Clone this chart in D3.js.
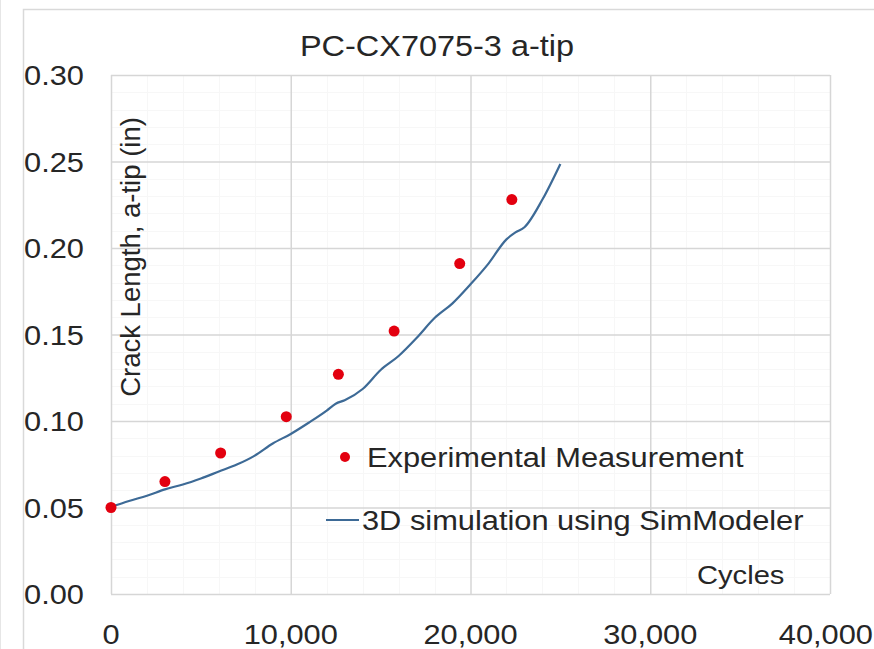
<!DOCTYPE html>
<html>
<head>
<meta charset="utf-8">
<script src="https://cdn.jsdelivr.net/npm/d3@7"></script>
<style>
  html, body { margin: 0; padding: 0; background: #fff; }
  svg { display: block; font-family: "Liberation Sans", Arial, sans-serif; }
</style>
</head>
<body>
<svg id="chart" width="874" height="649"></svg>
<script>
// Measured crack growth (cycles, crack length in inches)
const expCycles = [0, 3000, 6100, 9750, 12650, 15750, 19400, 22300];
const expLength = [0.050, 0.065, 0.0815, 0.1025, 0.127, 0.152, 0.191, 0.228];

// SimModeler 3D simulation curve
const simCycles = [0, 1000, 2000, 3000, 4000, 5000, 6000, 7000, 8000, 9000, 10000,
  11000, 12000, 12500, 13000, 14000, 15000, 16000, 17000, 18000, 19000, 20000,
  21000, 22000, 22500, 23000, 24000, 25000];
const simLength = [0.0503, 0.0538, 0.0568, 0.0605, 0.0633, 0.0668, 0.0708, 0.0748,
  0.0800, 0.0870, 0.0925, 0.0990, 0.1060, 0.1100, 0.1120, 0.1185, 0.1295, 0.1376,
  0.1480, 0.1595, 0.1680, 0.1790, 0.1910, 0.2050, 0.2090, 0.2120, 0.2280, 0.2486];

const xTicks = [0, 10000, 20000, 30000, 40000];
const yTicks = [0.00, 0.05, 0.10, 0.15, 0.20, 0.25, 0.30];

const titleText = "PC-CX7075-3 a-tip";
const yLabelText = "Crack Length, a-tip (in)";
const xLabelText = "Cycles";
const legendExp = "Experimental Measurement";
const legendSim = "3D simulation using SimModeler";

const svg = d3.select("#chart");
const plot = { left: 111, right: 830, top: 75, bottom: 594 };
const stretch = 1.1;   // horizontal glyph scale used for all chart text

const x = d3.scaleLinear().domain([0, 40000]).range([plot.left, plot.right]);
const y = d3.scaleLinear().domain([0, 0.30]).range([plot.bottom, plot.top]);

// Chart area frame
svg.append("rect")
  .attr("x", 23.5).attr("y", 9.5).attr("width", 900).attr("height", 700)
  .attr("fill", "#fff").attr("stroke", "#d9d9d9").attr("stroke-width", 1.5);
svg.append("line").attr("x1", 0.5).attr("x2", 0.5).attr("y1", 0).attr("y2", 649)
  .attr("stroke", "#e6e6e6");

// Minor gridlines (very faint)
const minorX = d3.range(0, 40001, 2000).filter(v => v % 10000 !== 0);
const minorY = d3.range(0, 31, 1).map(v => v / 100).filter((v, i) => i % 5 !== 0);
const grid = svg.append("g");
grid.selectAll(".mx").data(minorX).join("line")
  .attr("x1", d => Math.round(x(d)) + 0.5).attr("x2", d => Math.round(x(d)) + 0.5)
  .attr("y1", plot.top).attr("y2", plot.bottom)
  .attr("stroke", "#f7f7f7").attr("stroke-width", 1);
grid.selectAll(".my").data(minorY).join("line")
  .attr("x1", plot.left).attr("x2", plot.right)
  .attr("y1", d => Math.round(y(d)) + 0.5).attr("y2", d => Math.round(y(d)) + 0.5)
  .attr("stroke", "#f7f7f7").attr("stroke-width", 1);

// Major gridlines (via d3 axes with full-length ticks)
svg.append("g")
  .attr("transform", `translate(0,${plot.bottom})`)
  .call(d3.axisBottom(x).tickValues(xTicks).tickSize(-(plot.bottom - plot.top)).tickFormat(""))
  .call(g => g.select(".domain").remove())
  .call(g => g.selectAll("line").attr("stroke", "#d6d6d6").attr("stroke-width", 1.5));
svg.append("g")
  .attr("transform", `translate(${plot.left},0)`)
  .call(d3.axisLeft(y).tickValues(yTicks).tickSize(-(plot.right - plot.left)).tickFormat(""))
  .call(g => g.select(".domain").remove())
  .call(g => g.selectAll("line").attr("stroke", "#d6d6d6").attr("stroke-width", 1.5));

// Tick labels
const fmtX = d3.format(",");
const fmtY = d3.format(".2f");
function stretchedText(sel, px, py, txt, size, anchor) {
  return sel.append("text")
    .attr("transform", `translate(${px},${py}) scale(${stretch},1)`)
    .attr("text-anchor", anchor)
    .attr("font-size", size)
    .attr("fill", "#262626")
    .text(txt);
}
const labels = svg.append("g");
xTicks.forEach((t, i) => {
  // the last label is pulled in so it stays inside the page edge
  if (i === xTicks.length - 1) stretchedText(labels, 873, 644, fmtX(t), 28, "end");
  else stretchedText(labels, x(t), 644, fmtX(t), 28, "middle");
});
yTicks.forEach(t => stretchedText(labels, 84, y(t) + 10, fmtY(t), 28, "end"));

// Title
stretchedText(svg, 437, 56, titleText, 29.5, "middle");

// Y axis title (rotated, inside plot)
svg.append("text")
  .attr("transform", `translate(140,257) rotate(-90)`)
  .attr("text-anchor", "middle")
  .attr("font-size", 27.5)
  .attr("fill", "#262626")
  .text(yLabelText);

// X axis title
stretchedText(svg, 697, 584, xLabelText, 26.5, "start");

// Simulation curve
const simData = simCycles.map((c, i) => [c, simLength[i]]);
svg.append("path")
  .datum(simData)
  .attr("fill", "none")
  .attr("stroke", "#3d6a96")
  .attr("stroke-width", 2.2)
  .attr("stroke-linejoin", "round")
  .attr("d", d3.line().x(d => x(d[0])).y(d => y(d[1])).curve(d3.curveMonotoneX));

// Experimental points
const expData = expCycles.map((c, i) => [c, expLength[i]]);
svg.append("g").selectAll("circle").data(expData).join("circle")
  .attr("cx", d => x(d[0])).attr("cy", d => y(d[1]))
  .attr("r", 5.5)
  .attr("fill", "#e3000f");

// Legend
const leg = svg.append("g");
leg.append("circle").attr("cx", 345).attr("cy", 457).attr("r", 5).attr("fill", "#e3000f");
stretchedText(leg, 367, 467, legendExp, 28, "start");
leg.append("line").attr("x1", 326).attr("x2", 359).attr("y1", 520).attr("y2", 520)
  .attr("stroke", "#3d6a96").attr("stroke-width", 2.2);
stretchedText(leg, 362, 530, legendSim, 28, "start");
</script>
</body>
</html>
